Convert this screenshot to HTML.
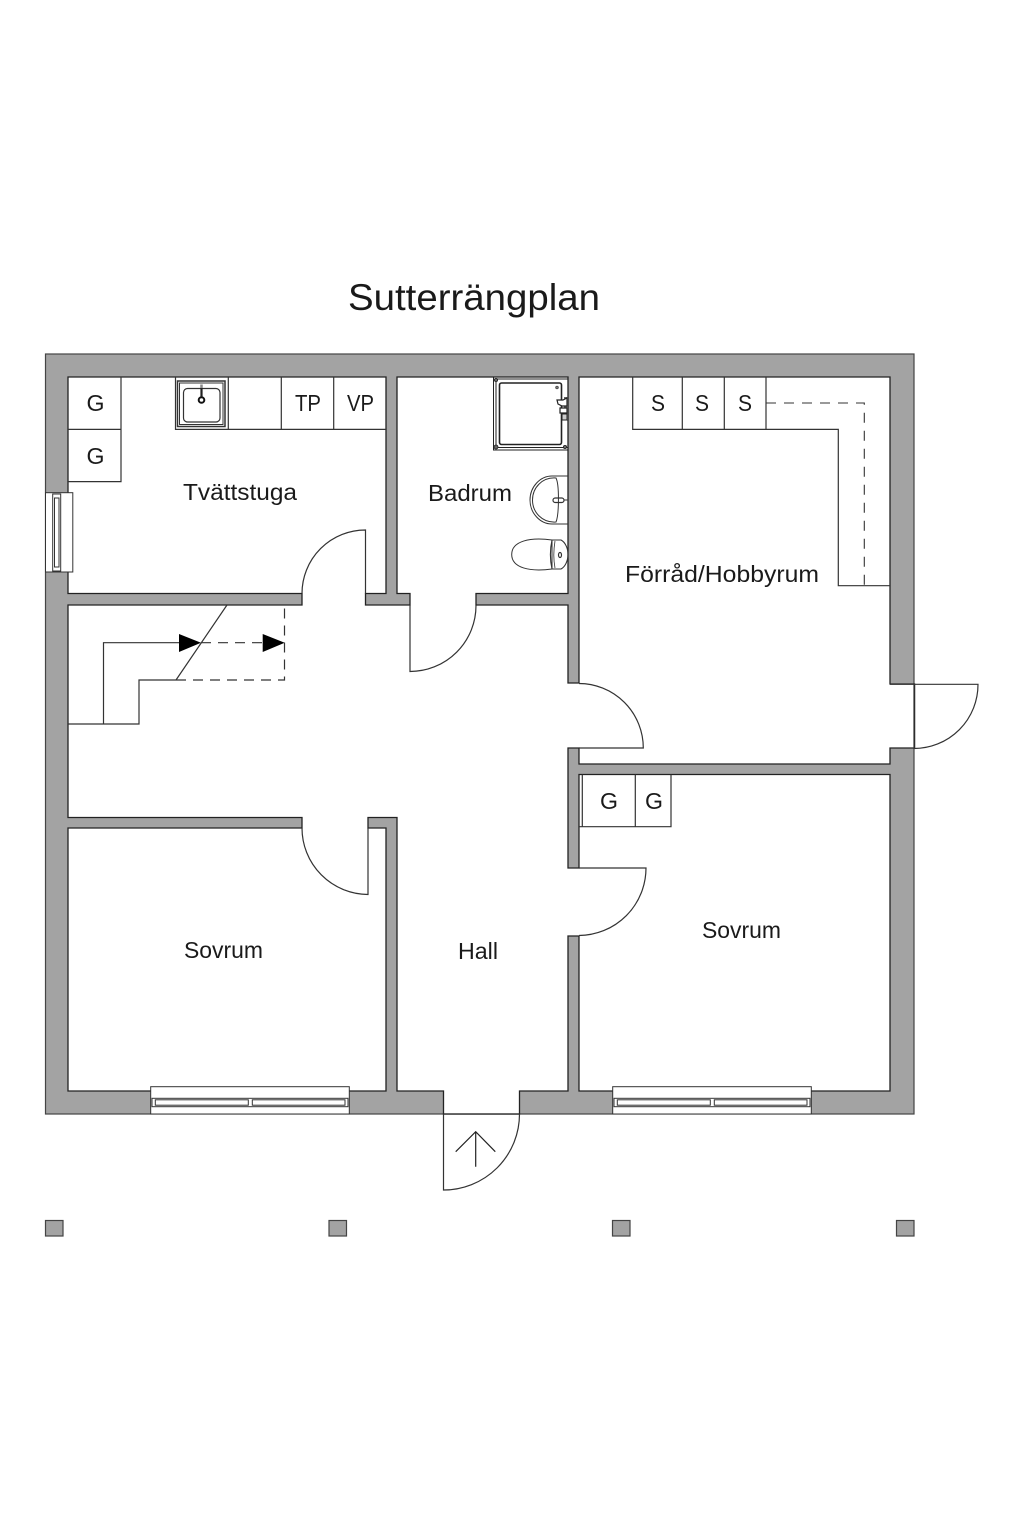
<!DOCTYPE html>
<html><head><meta charset="utf-8"><style>html,body{margin:0;padding:0;background:#fff}svg{display:block}text{font-family:"Liberation Sans",sans-serif;fill:#1a1a1a}</style></head><body>
<svg width="1024" height="1520" viewBox="0 0 1024 1520" xmlns="http://www.w3.org/2000/svg">
<rect width="1024" height="1520" fill="#fff"/>
<rect x="45.5" y="354" width="868.5" height="760" fill="#a3a3a3" stroke="#444" stroke-width="1.2"/>
<path d="M68 377H386V593.5H365.5V605H410V593.5H397V377H568V593.5H476V605H568V683H579V377H890V684H914.6V748H890V764H579V748H568V868H579V774.5H890V1091H579V936H568V1091H519.5V1114H443.5V1091H397V817.5H368V828H386V1091H68V828H302V817.5H68V605H302V593.5H68Z" fill="#fff" stroke="#222" stroke-width="1.3"/>
<g fill="none" stroke="#333" stroke-width="1.2">
<path d="M914 684V748M443.5 1114H519.5"/>
<!-- doors -->
<path d="M302 593.5A63.5 63.5 0 0 1 365.5 530V593.5"/>
<path d="M410 605V671.5A66 66 0 0 0 476 605.5"/>
<path d="M579 683.5A64.5 64.5 0 0 1 643.3 748H579"/>
<path d="M890 684.3H978A64 64 0 0 1 914 748.5"/>
<path d="M579 868H646A67.5 67.5 0 0 1 579 935.5"/>
<path d="M302 828A66.5 66.5 0 0 0 368 894.5V828"/>
<path d="M443.5 1114V1190A76 76 0 0 0 519.5 1114"/>
<path d="M455.7 1151.7L475.7 1131.7L495.3 1151.7M475.7 1131.7V1166.7" stroke="#222"/>
<!-- stairs -->
<path d="M68 724H139V680H176M103.5 724V642.7H180M176 680L227 605"/>
<path d="M201 642.7H263M176 680H284.5V605" stroke-dasharray="10 7"/>
<!-- cabinets -->
<path d="M68 429.4H121V377M68 481.6H121V429.4"/>
<path d="M175.5 377V429.4H386M228.3 377V429.4M281.3 377V429.4M333.7 377V429.4"/>
<path d="M632.7 377V429.4H838.3V585.7H890M682.3 377V429.4M724.3 377V429.4M766 377V429.4"/>
<path d="M766 403H864.3V632" stroke-dasharray="10 8" stroke-width="1.1" clip-path="url(#dashclip)"/>
<path d="M579 826.7H671V774.5M582.3 774.5V826.7M635.3 774.5V826.7"/>
</g>
<clipPath id="dashclip"><rect x="760" y="395" width="120" height="190"/></clipPath>
<path d="M179 634L201 642.7L179 652Z M262.7 634L284.7 642.7L262.7 652Z" fill="#000"/>
<!-- sink -->
<g fill="none" stroke="#333">
<rect x="177.500" y="381" width="47.500" height="45.500" stroke-width="1.500"/>
<rect x="179.500" y="383" width="43.500" height="41.500" stroke-width="1"/>
<rect x="183.500" y="388.500" width="36.500" height="33.500" rx="4" stroke-width="1.200"/>
<circle cx="201.500" cy="400" r="2.800" stroke="#111" stroke-width="2"/>
<path d="M201.500 388V397" stroke="#222" stroke-width="2.200"/>
<path d="M201.500 384.500V388" stroke="#888" stroke-width="2.500"/>
</g>
<!-- shower -->
<g fill="none" stroke="#222">
<rect x="493.500" y="377" width="74.500" height="73" stroke-width="1"/>
<rect x="496" y="379" width="72" height="68.500" stroke-width="1"/>
<rect x="499.500" y="383" width="62" height="61.500" rx="2" stroke-width="1.600"/>
<circle cx="496" cy="447" r="2" fill="#666" stroke-width=".8"/>
<circle cx="565" cy="447" r="1.600" fill="#666" stroke-width=".8"/>
<circle cx="496" cy="380" r="1.600" fill="#666" stroke-width=".8"/>
<circle cx="557" cy="387.500" r="1.500" fill="#777" stroke-width=".5"/>
<path d="M566 397V420" stroke="#666" stroke-width="4"/>
<path d="M557 400H563L567 398V406H562L558 404Z" fill="#fff" stroke-width="1.200"/>
<path d="M560 408H567V413H560Z" fill="#fff" stroke-width="1.200"/>
<path d="M562 414H567V420H562Z" fill="#ccc" stroke-width="1"/>
</g>
<!-- basin -->
<g fill="none" stroke="#333" stroke-width="1">
<path d="M568 476H552C540 476 530 487 530 500C530 513 540 524 552 524H568"/>
<path d="M556 478C542 477 532.500 488 532.500 500C532.500 512 542 523 556 522C559 515 559.500 485 556 478Z"/>
<rect x="553" y="498" width="11" height="4.500" rx="2.200" stroke-width="1.200"/>
<path d="M564 500H568"/>
</g>
<!-- toilet -->
<g fill="none" stroke="#333" stroke-width="1">
<path d="M552 540C530 537 511.700 541 511.700 554.500C511.700 568 530 572 552 569Z"/>
<path d="M552 540H561C565 542 568 548 568 554.500C568 561 565 567 561 569H552C550 560 550 549 552 540Z" stroke-width="1.100"/>
<path d="M555 541C553.500 550 553.500 560 555 568" stroke-width=".8"/>
<ellipse cx="560" cy="555" rx="1.500" ry="2.500" stroke-width="1.200"/>
</g>
<!-- windows -->
<g stroke="#333" stroke-width="1" fill="#fff">
<rect x="45.500" y="492.700" width="27.300" height="79.300"/>
<rect x="52.700" y="494" width="8" height="77"/>
<rect x="54.500" y="498" width="4.500" height="69"/>
<rect x="150.700" y="1086.700" width="198.600" height="27.300"/>
<rect x="152" y="1098.300" width="196" height="8.400"/>
<rect x="155.300" y="1099.800" width="93" height="5.400"/>
<rect x="252.300" y="1099.800" width="92.700" height="5.400"/>
<rect x="612.700" y="1086.700" width="198.600" height="27.300"/>
<rect x="614" y="1098.300" width="196" height="8.400"/>
<rect x="617.300" y="1099.800" width="93" height="5.400"/>
<rect x="714.300" y="1099.800" width="92.700" height="5.400"/>
</g>
<!-- pillars -->
<g fill="#a3a3a3" stroke="#444" stroke-width="1.200">
<rect x="45.500" y="1220.500" width="17.500" height="15.500"/>
<rect x="329" y="1220.500" width="17.500" height="15.500"/>
<rect x="612.500" y="1220.500" width="17.500" height="15.500"/>
<rect x="896.500" y="1220.500" width="17.500" height="15.500"/>
</g>
<!-- labels -->
<text x="348" y="310" font-size="37" textLength="252" lengthAdjust="spacingAndGlyphs">Sutterrängplan</text>
<g font-size="23">
<text x="183" y="500" textLength="114" lengthAdjust="spacingAndGlyphs">Tvättstuga</text>
<text x="428" y="501" textLength="84" lengthAdjust="spacingAndGlyphs">Badrum</text>
<text x="625" y="582" textLength="194" lengthAdjust="spacingAndGlyphs">Förråd/Hobbyrum</text>
<text x="184" y="958" textLength="79" lengthAdjust="spacingAndGlyphs">Sovrum</text>
<text x="458" y="959" textLength="40" lengthAdjust="spacingAndGlyphs">Hall</text>
<text x="702" y="938" textLength="79" lengthAdjust="spacingAndGlyphs">Sovrum</text>
<text x="86.500" y="411" textLength="18" lengthAdjust="spacingAndGlyphs">G</text>
<text x="86.500" y="464" textLength="18" lengthAdjust="spacingAndGlyphs">G</text>
<text x="295" y="411" textLength="26" lengthAdjust="spacingAndGlyphs">TP</text>
<text x="347" y="411" textLength="27" lengthAdjust="spacingAndGlyphs">VP</text>
<text x="651" y="411" textLength="14" lengthAdjust="spacingAndGlyphs">S</text>
<text x="695" y="411" textLength="14" lengthAdjust="spacingAndGlyphs">S</text>
<text x="738" y="411" textLength="14" lengthAdjust="spacingAndGlyphs">S</text>
<text x="600" y="809" textLength="18" lengthAdjust="spacingAndGlyphs">G</text>
<text x="645" y="809" textLength="18" lengthAdjust="spacingAndGlyphs">G</text>
</g>
</svg>
</body></html>
